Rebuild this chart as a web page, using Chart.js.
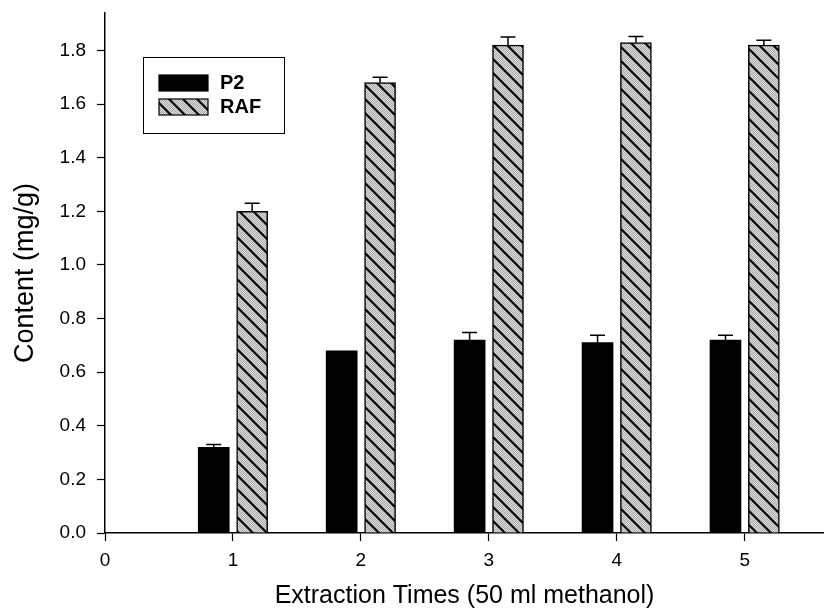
<!DOCTYPE html>
<html>
<head>
<meta charset="utf-8">
<script src="https://cdn.jsdelivr.net/npm/chart.js@4.4.0/dist/chart.umd.min.js"></script>
<style>
  html, body { margin: 0; padding: 0; background: #fff; }
  #wrap { width: 824px; height: 615px; }
</style>
</head>
<body>
<div id="wrap"><canvas id="extractionChart" width="824" height="615"></canvas></div>
<script>
// Số liệu
const extractionTimes = [1, 2, 3, 4, 5];
const p2Values = [0.32, 0.68, 0.72, 0.71, 0.72];
const p2Errors = [0.01, 0, 0.028, 0.028, 0.018];
const rafValues = [1.20, 1.68, 1.82, 1.83, 1.82];
const rafErrors = [0.03, 0.02, 0.03, 0.022, 0.018];
const xTickLabels = ['0', '1', '2', '3', '4', '5'];
const yTickLabels = ['0.0', '0.2', '0.4', '0.6', '0.8', '1.0', '1.2', '1.4', '1.6', '1.8'];

const FONT = "'Liberation Sans', Arial, Helvetica, sans-serif";

// Tạo mẫu gạch chéo cho RAF
function makeHatch() {
  const s = 14;
  const c = document.createElement('canvas');
  c.width = s; c.height = s;
  const g = c.getContext('2d');
  g.fillStyle = '#e0e0e0';
  g.fillRect(0, 0, s, s);
  g.fillStyle = '#a6a6a6';
  for (let y = 0; y < s; y++) {
    for (let x = 0; x < s; x++) {
      if ((x + y) % 2 === 0) g.fillRect(x, y, 1, 1);
    }
  }
  g.strokeStyle = '#000';
  g.lineWidth = 2;
  [-s, 0, s].forEach(function (o) {
    g.beginPath();
    g.moveTo(o - 1, -1);
    g.lineTo(o + s + 1, s + 1);
    g.stroke();
  });
  return g.createPattern(c, 'repeat');
}

const hatch = makeHatch();
const barOffset = 0.15;

// Vẽ thanh sai số
const errorBarPlugin = {
  id: 'errorBars',
  afterDatasetsDraw(chart) {
    const ctx = chart.ctx;
    const yScale = chart.scales.y;
    chart.data.datasets.forEach(function (ds, di) {
      const meta = chart.getDatasetMeta(di);
      meta.data.forEach(function (bar, i) {
        const err = ds.errors[i];
        if (!err) return;
        const yTop = yScale.getPixelForValue(ds.data[i].y + err);
        ctx.save();
        ctx.strokeStyle = '#000';
        ctx.lineWidth = 1.5;
        ctx.beginPath();
        ctx.moveTo(bar.x, bar.y);
        ctx.lineTo(bar.x, yTop);
        ctx.moveTo(bar.x - 7.5, yTop);
        ctx.lineTo(bar.x + 7.5, yTop);
        ctx.stroke();
        ctx.restore();
      });
    });
  }
};

// Chú thích có khung
const boxLegendPlugin = {
  id: 'boxLegend',
  afterDraw(chart) {
    const ctx = chart.ctx;
    ctx.save();
    ctx.strokeStyle = '#000';
    ctx.lineWidth = 1;
    ctx.strokeRect(143.5, 57.5, 141, 76);
    chart.data.datasets.forEach(function (ds, i) {
      const y = 75 + i * 24;
      ctx.fillStyle = ds.backgroundColor;
      ctx.fillRect(159, y, 49, 16);
      ctx.lineWidth = 1.2;
      ctx.strokeRect(159, y, 49, 16);
      ctx.fillStyle = '#000';
      ctx.font = 'bold 20px ' + FONT;
      ctx.textBaseline = 'middle';
      ctx.fillText(ds.label, 220, y + 8);
    });
    ctx.restore();
  }
};

const ctx = document.getElementById('extractionChart').getContext('2d');
new Chart(ctx, {
  type: 'bar',
  data: {
    datasets: [{
      label: 'P2',
      data: extractionTimes.map((x, i) => ({ x: x - barOffset, y: p2Values[i] })),
      errors: p2Errors,
      backgroundColor: '#000',
      borderWidth: 0,
      barThickness: 31,
      grouped: false
    }, {
      label: 'RAF',
      data: extractionTimes.map((x, i) => ({ x: x + barOffset, y: rafValues[i] })),
      errors: rafErrors,
      backgroundColor: hatch,
      borderColor: '#000',
      borderWidth: 1.5,
      barThickness: 31,
      grouped: false
    }]
  },
  options: {
    responsive: false,
    devicePixelRatio: 1,
    animation: false,
    layout: { padding: { left: 9, top: 13, right: 0, bottom: 4 } },
    plugins: {
      legend: { display: false },
      tooltip: { enabled: false }
    },
    scales: {
      x: {
        type: 'linear',
        min: 0,
        max: 5.62,
        offset: false,
        border: { color: '#000', width: 1.5 },
        grid: { offset: false, drawOnChartArea: false, tickLength: 8, tickColor: '#000', tickWidth: 1.2 },
        ticks: {
          stepSize: 1,
          includeBounds: false,
          autoSkip: false,
          maxRotation: 0,
          padding: 8,
          color: '#000',
          font: { family: FONT, size: 19 },
          callback: (v) => xTickLabels[v] ?? ''
        },
        title: {
          display: true,
          text: 'Extraction Times (50 ml methanol)',
          color: '#000',
          font: { family: FONT, size: 25 },
          padding: { top: 0, bottom: 0 }
        },
        afterFit: (s) => { s.height = 78; }
      },
      y: {
        min: 0,
        max: 1.94,
        border: { color: '#000', width: 1.5 },
        grid: { drawOnChartArea: false, tickLength: 8, tickColor: '#000', tickWidth: 1.2 },
        ticks: {
          stepSize: 0.2,
          includeBounds: false,
          padding: 11,
          color: '#000',
          font: { family: FONT, size: 19 },
          callback: (v, i) => yTickLabels[i] ?? ''
        },
        title: {
          display: true,
          text: 'Content (mg/g)',
          color: '#000',
          font: { family: FONT, size: 27 },
          padding: { top: 0, bottom: 0 }
        },
        afterFit: (s) => { s.width = 96; s.paddingTop = 0; s.paddingBottom = 0; }
      }
    }
  },
  plugins: [errorBarPlugin, boxLegendPlugin]
});
</script>
</body>
</html>
